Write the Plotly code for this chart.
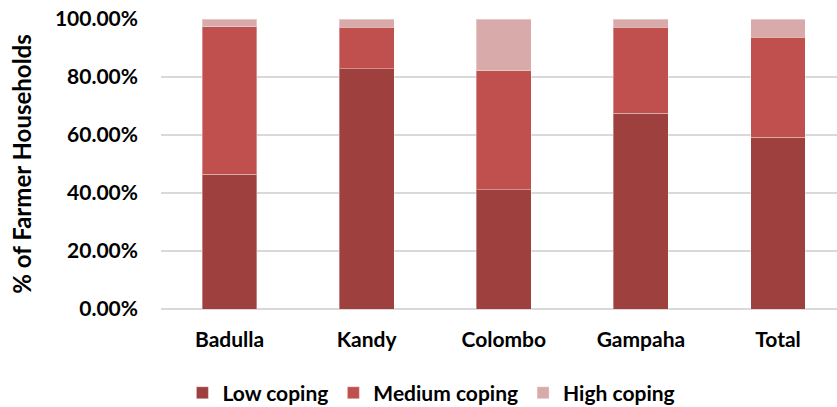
import plotly.graph_objects as go

categories = ["Badulla", "Kandy", "Colombo", "Gampaha", "Total"]
low_coping = [0.464, 0.828, 0.411, 0.675, 0.592]
medium_coping = [0.509, 0.143, 0.411, 0.296, 0.345]
high_coping = [0.027, 0.029, 0.178, 0.029, 0.063]
y_ticks = [0, 0.2, 0.4, 0.6, 0.8, 1.0]

series = [
    ("Low coping", low_coping, "#9E413E"),
    ("Medium coping", medium_coping, "#C0504D"),
    ("High coping", high_coping, "#D9AAAA"),
]

font_family = "Lato, 'Open Sans', sans-serif"

fig = go.Figure()
for name, vals, color in series:
    fig.add_trace(go.Bar(
        x=categories, y=vals, name=name, width=0.4,
        marker=dict(color=color, line=dict(color="rgba(255,255,255,0.35)", width=1)),
    ))

fig.update_layout(
    barmode="stack",
    width=837, height=407,
    margin=dict(l=161, r=0, t=19, b=98, autoexpand=False),
    plot_bgcolor="white", paper_bgcolor="white",
    font=dict(family=font_family, size=21, color="#000000"),
    showlegend=True,
    legend=dict(
        orientation="h", x=0.40, y=-0.29, xanchor="center", yanchor="middle",
        font=dict(family=font_family, size=21, color="#000000", weight="bold"),
        traceorder="normal", itemwidth=30,
    ),
    xaxis=dict(
        range=[-0.5, 4.43], automargin=False,
        showgrid=False, showline=False, zeroline=False,
        tickfont=dict(family=font_family, size=21, color="#000000", weight="bold"),
        ticks="", ticklabelstandoff=16,
    ),
    yaxis=dict(
        range=[0, 1.0], automargin=False,
        tickvals=y_ticks, tickformat=".2%",
        showgrid=True, gridcolor="#D9D9D9", gridwidth=1.5,
        zeroline=True, zerolinecolor="#D9D9D9", zerolinewidth=1.5,
        showline=False, ticks="", ticklabelstandoff=22,
        tickfont=dict(family=font_family, size=21, color="#000000", weight="bold"),
        title=dict(text="% of Farmer Households", standoff=16,
                   font=dict(family=font_family, size=24, color="#000000", weight="bold")),
    ),
)

fig.write_html("out.html")
